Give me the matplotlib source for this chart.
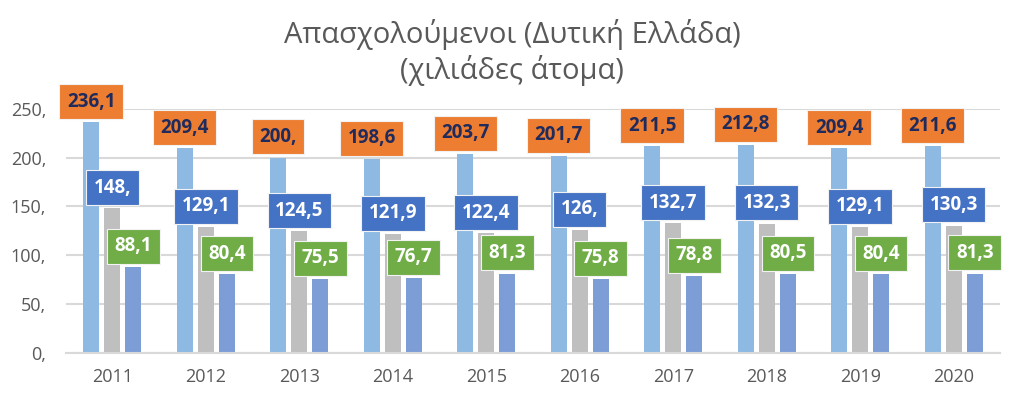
import numpy as np
import matplotlib.pyplot as plt
from matplotlib.ticker import FuncFormatter

plt.rcParams['font.family'] = ['Open Sans', 'DejaVu Sans']

# Data
years = ['2011', '2012', '2013', '2014', '2015', '2016', '2017', '2018', '2019', '2020']
total = [236.1, 209.4, 200.0, 198.6, 203.7, 201.7, 211.5, 212.8, 209.4, 211.6]
men = [148.0, 129.1, 124.5, 121.9, 122.4, 126.0, 132.7, 132.3, 129.1, 130.3]
women = [88.1, 80.4, 75.5, 76.7, 81.3, 75.8, 78.8, 80.5, 80.4, 81.3]

total_lbl = ['236,1', '209,4', '200,', '198,6', '203,7', '201,7', '211,5', '212,8', '209,4', '211,6']
men_lbl = ['148,', '129,1', '124,5', '121,9', '122,4', '126,', '132,7', '132,3', '129,1', '130,3']
women_lbl = ['88,1', '80,4', '75,5', '76,7', '81,3', '75,8', '78,8', '80,5', '80,4', '81,3']

bar_colors = ['#8DB9E2', '#BFBFBF', '#7C9DD6']
box_colors = ['#ED7D31', '#4472C4', '#70AD47']
text_colors = ['#1F2B5C', 'white', 'white']

fig = plt.figure(figsize=(10.24, 3.93), dpi=100)
ax = fig.add_axes([0.064, 0.102, 0.913, 0.621])

x = np.arange(len(years))
w = 0.17
step = 0.225

series = [(total, total_lbl), (men, men_lbl), (women, women_lbl)]
for i, (vals, lbls) in enumerate(series):
    xs = x + (i - 1) * step
    ax.bar(xs, vals, width=w, color=bar_colors[i], zorder=2)
    for xi, v, t in zip(xs, vals, lbls):
        ax.annotate(t, xy=(xi, v), xytext=(0, 15), textcoords='offset points',
                    ha='center', va='center', fontsize=13.5, fontweight='bold',
                    color=text_colors[i], zorder=5, annotation_clip=False,
                    bbox=dict(boxstyle='square,pad=0.4', fc=box_colors[i],
                              ec='#F2F2F2', lw=0.8))

ax.set_xlim(-0.5, len(years) - 0.5)
ax.set_ylim(0, 250)
ax.set_yticks([0, 50, 100, 150, 200, 250])
ax.yaxis.set_major_formatter(FuncFormatter(lambda v, p: '%d,' % v))
ax.set_xticks(x)
ax.set_xticklabels(years)
ax.tick_params(axis='both', length=0, labelsize=13, labelcolor='#595959')
ax.tick_params(axis='y', pad=14)
ax.tick_params(axis='x', pad=11)
ax.grid(axis='y', color='#D9D9D9', lw=1.5, zorder=0)
for s in ['top', 'right', 'left']:
    ax.spines[s].set_visible(False)
ax.spines['bottom'].set_color('#D9D9D9')
ax.spines['bottom'].set_linewidth(1.5)

fig.text(0.5, 0.866, 'Απασχολούμενοι (Δυτική Ελλάδα)\n(χιλιάδες άτομα)',
         ha='center', va='center', fontsize=21, color='#595959', linespacing=1.2)

fig.savefig('out.png', dpi=100)
